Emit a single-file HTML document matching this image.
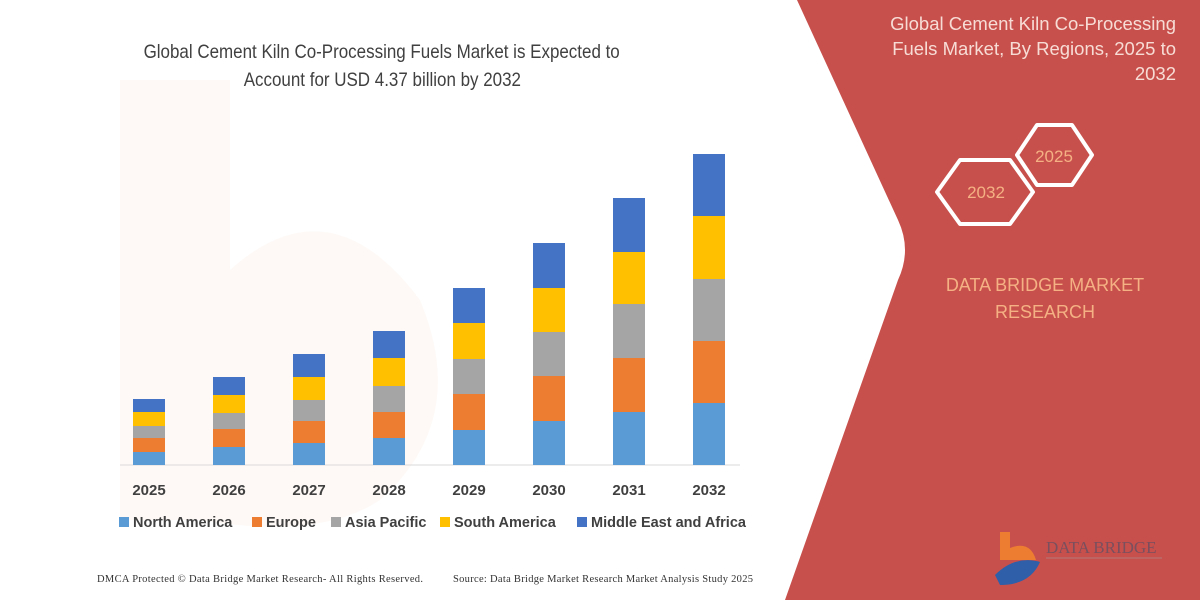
<!DOCTYPE html>
<html><head><meta charset="utf-8"><style>
html,body{margin:0;padding:0;}
body{width:1200px;height:600px;overflow:hidden;background:#fff;position:relative;font-family:"Liberation Sans",sans-serif;}
.t{position:absolute;white-space:nowrap;}
</style></head><body>
<svg width="1200" height="600" style="position:absolute;left:0;top:0">
<path d="M120 80 L230 80 L230 270 Q330 180 420 300 Q470 420 380 500 Q320 540 200 520 L120 520 Z" fill="#fdf5f0" opacity="0.6"/>
<path d="M797 0 L1200 0 L1200 600 L785 600 L898 280 Q912 250 898 220 Z" fill="#c8504c"/>
<g fill="none" stroke="#fff" stroke-width="4" stroke-linejoin="round">
<polygon points="937,192 960,160 1010,160 1033,192 1010,224 960,224"/>
<polygon points="1017,155 1037,125 1072,125 1092,155 1072,185 1037,185"/>
</g>
<g font-family="Liberation Sans, sans-serif" font-size="17" fill="#f4b183" text-anchor="middle">
<text x="986" y="198">2032</text>
<text x="1054" y="162">2025</text>
</g>
<line x1="120" y1="465" x2="740" y2="465" stroke="#d9d9d9" stroke-width="1"/>
<g>
<rect x="133" y="452" width="32" height="13" fill="#5b9bd5"/><rect x="133" y="438" width="32" height="14" fill="#ed7d31"/><rect x="133" y="426" width="32" height="12" fill="#a5a5a5"/><rect x="133" y="412" width="32" height="14" fill="#ffc000"/><rect x="133" y="399" width="32" height="13" fill="#4472c4"/>
<rect x="213" y="447" width="32" height="18" fill="#5b9bd5"/><rect x="213" y="429" width="32" height="18" fill="#ed7d31"/><rect x="213" y="413" width="32" height="16" fill="#a5a5a5"/><rect x="213" y="395" width="32" height="18" fill="#ffc000"/><rect x="213" y="377" width="32" height="18" fill="#4472c4"/>
<rect x="293" y="443" width="32" height="22" fill="#5b9bd5"/><rect x="293" y="421" width="32" height="22" fill="#ed7d31"/><rect x="293" y="400" width="32" height="21" fill="#a5a5a5"/><rect x="293" y="377" width="32" height="23" fill="#ffc000"/><rect x="293" y="354" width="32" height="23" fill="#4472c4"/>
<rect x="373" y="438" width="32" height="27" fill="#5b9bd5"/><rect x="373" y="412" width="32" height="26" fill="#ed7d31"/><rect x="373" y="386" width="32" height="26" fill="#a5a5a5"/><rect x="373" y="358" width="32" height="28" fill="#ffc000"/><rect x="373" y="331" width="32" height="27" fill="#4472c4"/>
<rect x="453" y="430" width="32" height="35" fill="#5b9bd5"/><rect x="453" y="394" width="32" height="36" fill="#ed7d31"/><rect x="453" y="359" width="32" height="35" fill="#a5a5a5"/><rect x="453" y="323" width="32" height="36" fill="#ffc000"/><rect x="453" y="288" width="32" height="35" fill="#4472c4"/>
<rect x="533" y="421" width="32" height="44" fill="#5b9bd5"/><rect x="533" y="376" width="32" height="45" fill="#ed7d31"/><rect x="533" y="332" width="32" height="44" fill="#a5a5a5"/><rect x="533" y="288" width="32" height="44" fill="#ffc000"/><rect x="533" y="243" width="32" height="45" fill="#4472c4"/>
<rect x="613" y="412" width="32" height="53" fill="#5b9bd5"/><rect x="613" y="358" width="32" height="54" fill="#ed7d31"/><rect x="613" y="304" width="32" height="54" fill="#a5a5a5"/><rect x="613" y="252" width="32" height="52" fill="#ffc000"/><rect x="613" y="198" width="32" height="54" fill="#4472c4"/>
<rect x="693" y="403" width="32" height="62" fill="#5b9bd5"/><rect x="693" y="341" width="32" height="62" fill="#ed7d31"/><rect x="693" y="279" width="32" height="62" fill="#a5a5a5"/><rect x="693" y="216" width="32" height="63" fill="#ffc000"/><rect x="693" y="154" width="32" height="62" fill="#4472c4"/>
</g>
<g font-family="Liberation Sans, sans-serif" font-size="15" font-weight="bold" fill="#404040" text-anchor="middle">
<text x="149" y="495">2025</text><text x="229" y="495">2026</text><text x="309" y="495">2027</text><text x="389" y="495">2028</text><text x="469" y="495">2029</text><text x="549" y="495">2030</text><text x="629" y="495">2031</text><text x="709" y="495">2032</text>
</g>
<g font-family="Liberation Sans, sans-serif" font-size="14.5" font-weight="bold" fill="#404040">
<rect x="119" y="517" width="10" height="10" fill="#5b9bd5"/><text x="133" y="527">North America</text>
<rect x="252" y="517" width="10" height="10" fill="#ed7d31"/><text x="266" y="527">Europe</text>
<rect x="331" y="517" width="10" height="10" fill="#a5a5a5"/><text x="345" y="527">Asia Pacific</text>
<rect x="440" y="517" width="10" height="10" fill="#ffc000"/><text x="454" y="527">South America</text>
<rect x="577" y="517" width="10" height="10" fill="#4472c4"/><text x="591" y="527">Middle East and Africa</text>
</g>
<g font-family="Liberation Serif, serif" font-size="10.5" fill="#333">
<text x="97" y="582" textLength="326">DMCA Protected © Data Bridge Market Research-  All Rights Reserved.</text>
<text x="453" y="582" textLength="300">Source: Data Bridge Market Research  Market Analysis Study 2025</text>
</g>
<path d="M1000 532 L1010 532 L1010 548 Q1030 540 1036 560 L1000 560 Z" fill="#ed7d31"/>
<path d="M995 575 Q1015 555 1040 562 Q1030 585 1000 585 Z" fill="#2e5fa8"/>
<text x="1046" y="553" font-family="Liberation Serif, serif" font-size="17" fill="#7a4f5e">DATA BRIDGE</text>
<line x1="1046" y1="558" x2="1162" y2="558" stroke="#b07a7a" stroke-width="1"/>
</svg>
<div class="t" style="left:82px;top:38px;width:600px;text-align:center;font-size:19.5px;color:#404040;line-height:28px;">
<div style="display:inline-block;transform:scaleX(0.87);transform-origin:center">Global Cement Kiln Co-Processing Fuels Market is Expected to</div><br>
<div style="display:inline-block;transform:scaleX(0.87);transform-origin:center">Account for USD 4.37 billion by 2032</div></div>
<div class="t" style="right:24px;top:11px;text-align:right;font-size:18.5px;color:#f7dcd5;line-height:25px">Global Cement Kiln Co-Processing<br>Fuels Market, By Regions, 2025 to<br>2032</div>
<div class="t" style="left:900px;top:272px;width:290px;text-align:center;font-size:18px;color:#f4b183;line-height:27px">DATA BRIDGE MARKET<br>RESEARCH</div>
</body></html>
